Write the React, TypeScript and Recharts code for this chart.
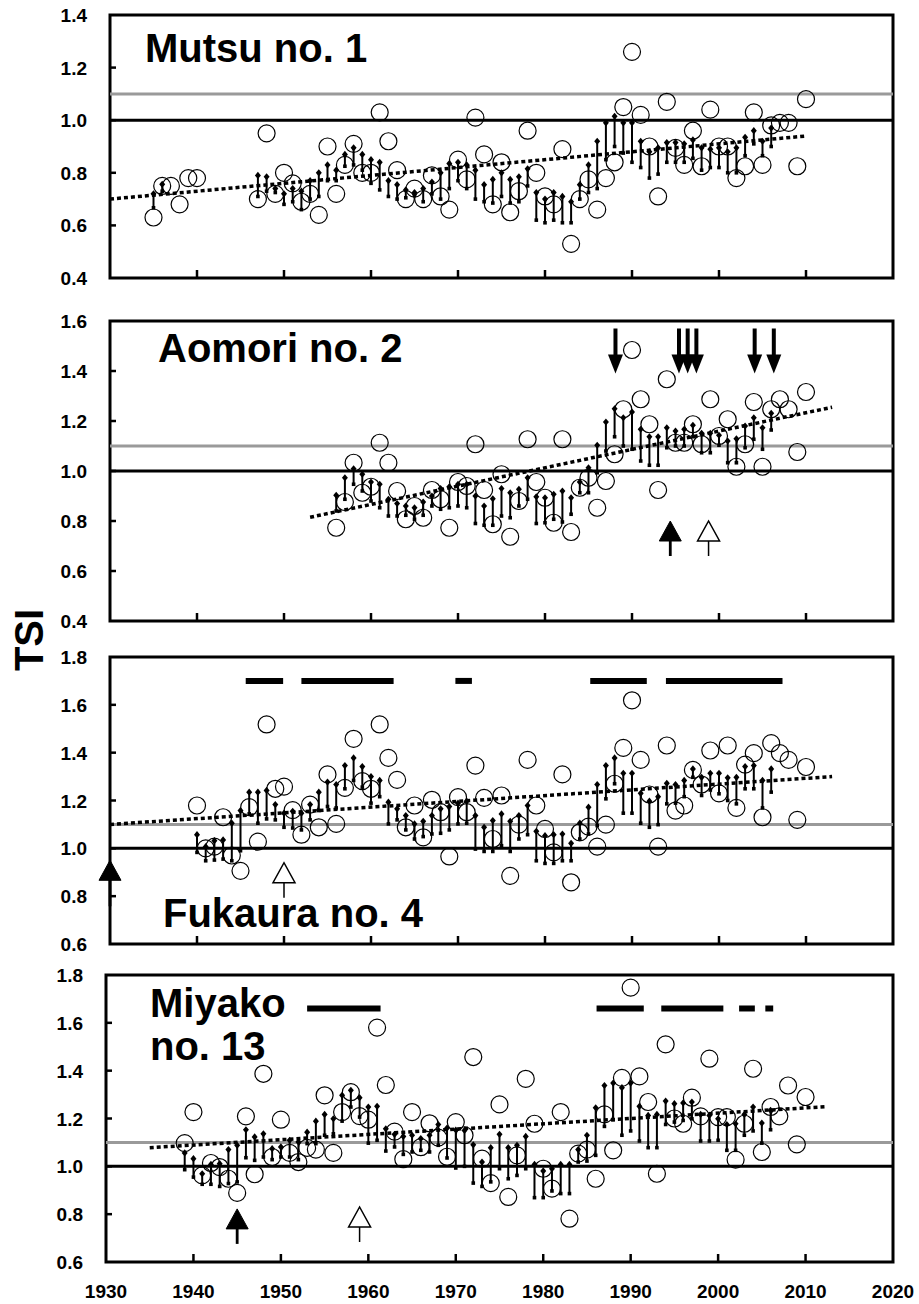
import React from 'react'
import { ScatterChart, Scatter, XAxis, YAxis, ReferenceLine, ReferenceArea, ErrorBar } from 'recharts'

type Pt = [number, number]
// year, diamond value, foot (square) value
type Stem = [number, number, number]

const xTicks = [1930, 1940, 1950, 1960, 1970, 1980, 1990, 2000, 2010, 2020]

// ---- Mutsu no. 1 ----
const mutsuObserved: Pt[] = [
  [1935, 0.63], [1936, 0.75], [1937, 0.75], [1938, 0.68], [1939, 0.78], [1940, 0.78],
  [1947, 0.7], [1948, 0.95], [1949, 0.72], [1950, 0.8], [1951, 0.76], [1952, 0.69],
  [1953, 0.72], [1954, 0.64], [1955, 0.9], [1956, 0.72], [1957, 0.83], [1958, 0.91],
  [1959, 0.8], [1960, 0.8], [1961, 1.03], [1962, 0.92], [1963, 0.81], [1964, 0.7],
  [1965, 0.74], [1966, 0.7], [1967, 0.79], [1968, 0.71], [1969, 0.66], [1970, 0.85],
  [1971, 0.775], [1972, 1.01], [1973, 0.87], [1974, 0.68], [1975, 0.84], [1976, 0.65],
  [1977, 0.73], [1978, 0.96], [1979, 0.8], [1980, 0.71], [1981, 0.68], [1982, 0.89],
  [1983, 0.53], [1984, 0.7], [1985, 0.775], [1986, 0.66], [1987, 0.78], [1988, 0.84],
  [1989, 1.05], [1990, 1.26], [1991, 1.02], [1992, 0.9], [1993, 0.71], [1994, 1.07],
  [1995, 0.895], [1996, 0.83], [1997, 0.96], [1998, 0.825], [1999, 1.04], [2000, 0.9],
  [2001, 0.9], [2002, 0.78], [2003, 0.825], [2004, 1.03], [2005, 0.83], [2006, 0.98],
  [2007, 0.99], [2008, 0.99], [2009, 0.825], [2010, 1.08],
]
const mutsuStems: Stem[] = [
  [1935, 0.72, 0.667], [1936, 0.756, 0.73],
  [1947, 0.79, 0.71], [1948, 0.785, 0.73], [1949, 0.74, 0.725], [1950, 0.72, 0.68],
  [1951, 0.74, 0.69], [1952, 0.73, 0.66], [1953, 0.77, 0.7], [1954, 0.8, 0.71],
  [1955, 0.83, 0.77], [1956, 0.81, 0.77], [1957, 0.87, 0.825], [1958, 0.895, 0.83],
  [1959, 0.87, 0.81], [1960, 0.85, 0.76], [1961, 0.84, 0.735], [1962, 0.77, 0.71],
  [1963, 0.755, 0.7], [1964, 0.735, 0.705], [1965, 0.725, 0.715], [1966, 0.74, 0.69],
  [1967, 0.765, 0.72], [1968, 0.8, 0.7], [1969, 0.835, 0.74], [1970, 0.84, 0.77],
  [1971, 0.83, 0.74], [1972, 0.81, 0.7], [1973, 0.755, 0.69], [1974, 0.775, 0.685],
  [1975, 0.8, 0.71], [1976, 0.775, 0.685], [1977, 0.785, 0.69], [1978, 0.815, 0.75],
  [1979, 0.725, 0.62], [1980, 0.7, 0.61], [1981, 0.725, 0.62], [1982, 0.71, 0.61],
  [1983, 0.69, 0.61], [1984, 0.755, 0.7], [1985, 0.83, 0.725], [1986, 0.92, 0.74],
  [1987, 0.99, 0.85], [1988, 1.015, 0.9], [1989, 0.99, 0.875], [1990, 0.99, 0.84],
  [1991, 0.92, 0.82], [1992, 0.88, 0.78], [1993, 0.895, 0.795], [1994, 0.915, 0.84],
  [1995, 0.915, 0.84], [1996, 0.91, 0.84], [1997, 0.925, 0.855], [1998, 0.895, 0.81],
  [1999, 0.89, 0.82], [2000, 0.895, 0.82], [2001, 0.88, 0.8], [2002, 0.895, 0.8],
  [2003, 0.935, 0.865], [2004, 0.96, 0.91], [2005, 0.92, 0.865], [2006, 0.97, 0.9],
]
const mutsuTrend: Pt[] = [[1930, 0.7], [2010, 0.94]]
const mutsuTicks = [0.4, 0.6, 0.8, 1.0, 1.2, 1.4]

// ---- Aomori no. 2 ----
const aomoriObserved: Pt[] = [
  [1956, 0.773], [1957, 0.876], [1958, 1.033], [1959, 0.913], [1960, 0.937], [1961, 1.113],
  [1962, 1.033], [1963, 0.92], [1964, 0.807], [1965, 0.86], [1966, 0.813], [1967, 0.924],
  [1968, 0.887], [1969, 0.773], [1970, 0.956], [1971, 0.94], [1972, 1.107], [1973, 0.924],
  [1974, 0.787], [1975, 0.987], [1976, 0.737], [1977, 0.88], [1978, 1.127], [1979, 0.956],
  [1980, 0.893], [1981, 0.793], [1982, 1.127], [1983, 0.756], [1984, 0.933], [1985, 0.973],
  [1986, 0.853], [1987, 0.96], [1988, 1.067], [1989, 1.247], [1990, 1.484], [1991, 1.287],
  [1992, 1.187], [1993, 0.924], [1994, 1.367], [1995, 1.113], [1996, 1.113], [1997, 1.187],
  [1998, 1.107], [1999, 1.287], [2000, 1.14], [2001, 1.207], [2002, 1.017], [2003, 1.107],
  [2004, 1.276], [2005, 1.017], [2006, 1.247], [2007, 1.287], [2008, 1.247], [2009, 1.076],
  [2010, 1.316],
]
const aomoriStems: Stem[] = [
  [1956, 0.903, 0.84], [1957, 0.973, 0.887], [1958, 1.009, 0.947], [1959, 0.987, 0.92],
  [1960, 0.956, 0.88], [1961, 0.947, 0.853], [1962, 0.887, 0.82], [1963, 0.87, 0.82],
  [1964, 0.86, 0.823], [1965, 0.853, 0.807], [1966, 0.876, 0.823], [1967, 0.9, 0.86],
  [1968, 0.93, 0.847], [1969, 0.937, 0.853], [1970, 0.947, 0.86], [1971, 0.947, 0.853],
  [1972, 0.9, 0.79], [1973, 0.86, 0.783], [1974, 0.889, 0.783], [1975, 0.93, 0.82],
  [1976, 0.913, 0.813], [1977, 0.927, 0.86], [1978, 0.973, 0.887], [1979, 0.897, 0.79],
  [1980, 0.893, 0.793], [1981, 0.907, 0.807], [1982, 0.92, 0.796], [1983, 0.893, 0.827],
  [1984, 0.956, 0.913], [1985, 1.013, 0.913], [1986, 1.103, 0.993], [1987, 1.196, 1.08],
  [1988, 1.249, 1.137], [1989, 1.213, 1.1], [1990, 1.236, 1.087], [1991, 1.167, 1.04],
  [1992, 1.137, 1.023], [1993, 1.137, 1.023], [1994, 1.173, 1.093], [1995, 1.16, 1.1],
  [1996, 1.167, 1.1], [1997, 1.183, 1.137], [1998, 1.151, 1.073], [1999, 1.151, 1.073],
  [2000, 1.143, 1.103], [2001, 1.12, 1.033], [2002, 1.129, 1.033], [2003, 1.18, 1.093],
  [2004, 1.213, 1.127], [2005, 1.173, 1.087], [2006, 1.231, 1.164],
]
const aomoriTrend: Pt[] = [[1953, 0.815], [2013, 1.255]]
const aomoriTicks = [0.4, 0.6, 0.8, 1.0, 1.2, 1.4, 1.6]
const aomoriDownArrows = [1988.1, 1995.4, 1996.4, 1997.4, 2004.1, 2006.3]
const aomoriUpArrows: [number, number, 'filled' | 'open'][] = [[1994.4, 0.8, 'filled'], [1998.8, 0.8, 'open']]

// ---- Fukaura no. 4 ----
const fukauraObserved: Pt[] = [
  [1940, 1.179], [1941, 1.0], [1942, 1.007], [1943, 1.13], [1944, 0.97], [1945, 0.906],
  [1946, 1.172], [1947, 1.028], [1948, 1.518], [1949, 1.249], [1950, 1.258], [1951, 1.16],
  [1952, 1.057], [1953, 1.183], [1954, 1.088], [1955, 1.309], [1956, 1.102], [1957, 1.253],
  [1958, 1.458], [1959, 1.281], [1960, 1.249], [1961, 1.518], [1962, 1.378], [1963, 1.286],
  [1964, 1.088], [1965, 1.179], [1966, 1.046], [1967, 1.203], [1968, 1.151], [1969, 0.966],
  [1970, 1.214], [1971, 1.151], [1972, 1.346], [1973, 1.211], [1974, 1.039], [1975, 1.221],
  [1976, 0.885], [1977, 1.099], [1978, 1.37], [1979, 1.179], [1980, 1.081], [1981, 0.983],
  [1982, 1.309], [1983, 0.858], [1984, 1.067], [1985, 1.091], [1986, 1.007], [1987, 1.099],
  [1988, 1.27], [1989, 1.42], [1990, 1.619], [1991, 1.37], [1992, 1.225], [1993, 1.007],
  [1994, 1.43], [1995, 1.158], [1996, 1.179], [1997, 1.328], [1998, 1.267], [1999, 1.409],
  [2000, 1.23], [2001, 1.43], [2002, 1.169], [2003, 1.35], [2004, 1.398], [2005, 1.13],
  [2006, 1.44], [2007, 1.398], [2008, 1.37], [2009, 1.119], [2010, 1.34],
]
const fukauraStems: Stem[] = [
  [1940, 1.057, 0.983], [1941, 1.007, 0.948], [1942, 1.032, 0.951], [1943, 1.035, 0.955],
  [1944, 1.105, 0.948], [1945, 1.158, 0.99], [1946, 1.235, 1.144], [1947, 1.235, 1.105],
  [1948, 1.242, 1.123], [1949, 1.183, 1.119], [1950, 1.147, 1.088], [1951, 1.155, 1.085],
  [1952, 1.147, 1.077], [1953, 1.183, 1.119], [1954, 1.235, 1.158], [1955, 1.277, 1.175],
  [1956, 1.267, 1.169], [1957, 1.346, 1.249], [1958, 1.378, 1.284], [1959, 1.342, 1.256],
  [1960, 1.3, 1.189], [1961, 1.284, 1.216], [1962, 1.193, 1.102], [1963, 1.165, 1.119],
  [1964, 1.137, 1.077], [1965, 1.102, 1.039], [1966, 1.113, 1.049], [1967, 1.137, 1.06],
  [1968, 1.165, 1.063], [1969, 1.175, 1.077], [1970, 1.189, 1.102], [1971, 1.197, 1.105],
  [1972, 1.137, 0.997], [1973, 1.088, 0.987], [1974, 1.116, 0.987], [1975, 1.144, 1.011],
  [1976, 1.113, 0.987], [1977, 1.137, 1.039], [1978, 1.179, 1.057], [1979, 1.071, 0.948],
  [1980, 1.053, 0.937], [1981, 1.057, 0.937], [1982, 1.06, 0.948], [1983, 1.021, 0.948],
  [1984, 1.105, 1.039], [1985, 1.172, 1.06], [1986, 1.267, 1.095], [1987, 1.346, 1.207],
  [1988, 1.378, 1.27], [1989, 1.314, 1.147], [1990, 1.314, 1.147], [1991, 1.23, 1.105],
  [1992, 1.197, 1.088], [1993, 1.216, 1.099], [1994, 1.272, 1.186], [1995, 1.267, 1.189],
  [1996, 1.284, 1.216], [1997, 1.332, 1.297], [1998, 1.297, 1.221], [1999, 1.314, 1.244],
  [2000, 1.314, 1.228], [2001, 1.295, 1.2], [2002, 1.297, 1.186], [2003, 1.342, 1.249],
  [2004, 1.346, 1.249], [2005, 1.284, 1.169], [2006, 1.332, 1.235],
]
const fukauraTrend: Pt[] = [[1930, 1.1], [2013, 1.3]]
const fukauraTicks = [0.6, 0.8, 1.0, 1.2, 1.4, 1.6, 1.8]
const fukauraPeriods: Pt[] = [[1945.6, 1949.9], [1952, 1962.6], [1969.7, 1971.6], [1985.2, 1991.7], [1993.9, 2007.3]]
const fukauraUpArrows: [number, number, 'filled' | 'open'][] = [[1930, 0.95, 'filled'], [1950, 0.94, 'open']]

// ---- Miyako no. 13 ----
const miyakoObserved: Pt[] = [
  [1939, 1.097], [1940, 1.227], [1941, 0.962], [1942, 1.014], [1943, 0.997], [1944, 0.948],
  [1945, 0.889], [1946, 1.209], [1947, 0.967], [1948, 1.387], [1949, 1.039], [1950, 1.195],
  [1951, 1.056], [1952, 1.018], [1953, 1.077], [1954, 1.07], [1955, 1.297], [1956, 1.056],
  [1957, 1.227], [1958, 1.31], [1959, 1.21], [1960, 1.195], [1961, 1.58], [1962, 1.34],
  [1963, 1.145], [1964, 1.03], [1965, 1.227], [1966, 1.08], [1967, 1.18], [1968, 1.12],
  [1969, 1.04], [1970, 1.185], [1971, 1.13], [1972, 1.457], [1973, 1.032], [1974, 0.93],
  [1975, 1.259], [1976, 0.872], [1977, 1.046], [1978, 1.366], [1979, 1.178], [1980, 0.99],
  [1981, 0.907], [1982, 1.227], [1983, 0.781], [1984, 1.053], [1985, 1.07], [1986, 0.948],
  [1987, 1.217], [1988, 1.067], [1989, 1.37], [1990, 1.747], [1991, 1.376], [1992, 1.269],
  [1993, 0.969], [1994, 1.51], [1995, 1.2], [1996, 1.178], [1997, 1.287], [1998, 1.209],
  [1999, 1.45], [2000, 1.206], [2001, 1.206], [2002, 1.028], [2003, 1.178], [2004, 1.408],
  [2005, 1.06], [2006, 1.248], [2007, 1.209], [2008, 1.338], [2009, 1.092], [2010, 1.29],
]
const miyakoStems: Stem[] = [
  [1939, 1.056, 0.986], [1940, 1.032, 0.955], [1941, 0.969, 0.925], [1942, 1.008, 0.925],
  [1943, 1.011, 0.916], [1944, 1.07, 0.928], [1945, 1.088, 0.935], [1946, 1.153, 1.036],
  [1947, 1.123, 1.025], [1948, 1.136, 1.039], [1949, 1.074, 1.028], [1950, 1.081, 1.039],
  [1951, 1.109, 1.039], [1952, 1.102, 1.028], [1953, 1.143, 1.095], [1954, 1.189, 1.095],
  [1955, 1.217, 1.13], [1956, 1.199, 1.136], [1957, 1.297, 1.189], [1958, 1.318, 1.248],
  [1959, 1.287, 1.206], [1960, 1.248, 1.097], [1961, 1.251, 1.109], [1962, 1.157, 1.064],
  [1963, 1.134, 1.081], [1964, 1.125, 1.05], [1965, 1.13, 1.06], [1966, 1.116, 1.067],
  [1967, 1.13, 1.06], [1968, 1.175, 1.088], [1969, 1.16, 1.035], [1970, 1.152, 0.993],
  [1971, 1.15, 1.0], [1972, 1.09, 0.93], [1973, 1.018, 0.916], [1974, 1.078, 0.935],
  [1975, 1.134, 0.99], [1976, 1.078, 0.948], [1977, 1.088, 0.962], [1978, 1.125, 0.99],
  [1979, 1.008, 0.869], [1980, 0.981, 0.869], [1981, 0.99, 0.897], [1982, 1.008, 0.886],
  [1983, 1.008, 0.886], [1984, 1.07, 1.018], [1985, 1.13, 1.022], [1986, 1.245, 1.046],
  [1987, 1.338, 1.167], [1988, 1.348, 1.195], [1989, 1.329, 1.13], [1990, 1.348, 1.148],
  [1991, 1.251, 1.106], [1992, 1.213, 1.078], [1993, 1.217, 1.078], [1994, 1.273, 1.175],
  [1995, 1.262, 1.185], [1996, 1.265, 1.192], [1997, 1.269, 1.199], [1998, 1.217, 1.106],
  [1999, 1.213, 1.106], [2000, 1.199, 1.109], [2001, 1.175, 1.067], [2002, 1.178, 1.067],
  [2003, 1.217, 1.13], [2004, 1.248, 1.148], [2005, 1.181, 1.097], [2006, 1.234, 1.153],
]
const miyakoTrend: Pt[] = [[1935, 1.078], [2012.5, 1.25]]
const miyakoTicks = [0.6, 0.8, 1.0, 1.2, 1.4, 1.6, 1.8]
const miyakoPeriods: Pt[] = [[1953, 1961.4], [1986.1, 1991.5], [1993.5, 2000.6], [2002.4, 2004.2], [2005.4, 2006.3]]
const miyakoUpArrows: [number, number, 'filled' | 'open'][] = [[1945, 0.822, 'filled'], [1959, 0.83, 'open']]

const FONT = '"Liberation Sans", Arial, Helvetica, sans-serif'

function XTick(props: any) {
  const { x, y, payload, showLabel } = props
  const v = payload.value
  const inner = v > 1930 && v < 2020
  return (
    <g>
      {inner && <line x1={x} x2={x} y1={y} y2={y - 8} stroke="#000" strokeWidth={2.5} />}
      {showLabel && (
        <text x={x} y={y + 36} textAnchor="middle" fontFamily={FONT} fontWeight="bold" fontSize={19} fill="#000">
          {v}
        </text>
      )}
    </g>
  )
}

function YTick(props: any) {
  const { x, y, payload, min, max } = props
  const v = payload.value
  const inner = v > min + 1e-6 && v < max - 1e-6
  return (
    <g>
      {inner && <line x1={x} x2={x + 6} y1={y} y2={y} stroke="#000" strokeWidth={2.5} />}
      <text x={x - 23} y={y + 7} textAnchor="end" fontFamily={FONT} fontWeight="bold" fontSize={19} fill="#000">
        {v.toFixed(1)}
      </text>
    </g>
  )
}

const circleShape = (p: any) => <circle cx={p.cx} cy={p.cy} r={8.5} fill="none" stroke="#000" strokeWidth={1.2} />
const diamondShape = (p: any) => (
  <polygon points={`${p.cx},${p.cy - 3.6} ${p.cx + 3},${p.cy} ${p.cx},${p.cy + 3.6} ${p.cx - 3},${p.cy}`} fill="#000" />
)
const footShape = (p: any) => <rect x={p.cx - 1.8} y={p.cy - 1.8} width={3.6} height={3.6} fill="#000" />
const downArrowShape = (p: any) => (
  <g>
    <line x1={p.cx} x2={p.cx} y1={p.cy - 45} y2={p.cy - 16} stroke="#000" strokeWidth={4} />
    <polygon points={`${p.cx - 7.5},${p.cy - 19} ${p.cx + 7.5},${p.cy - 19} ${p.cx},${p.cy}`} fill="#000" />
  </g>
)
const upArrowShape = (p: any) => {
  const filled = p.payload.kind === 'filled'
  const shaft = p.payload.long ? 46 : 35
  return (
    <g>
      <line x1={p.cx} x2={p.cx} y1={p.cy + 19} y2={p.cy + shaft} stroke="#000" strokeWidth={filled ? 2.8 : 1.5} />
      <polygon
        points={`${p.cx - 11},${p.cy + 20} ${p.cx + 11},${p.cy + 20} ${p.cx},${p.cy}`}
        fill={filled ? '#000' : '#fff'}
        stroke="#000"
        strokeWidth={filled ? 1 : 1.5}
      />
    </g>
  )
}

type PanelProps = {
  top: number
  bottom: number
  left: number
  right: number
  domain: [number, number]
  ticks: number[]
  observed: Pt[]
  stems: Stem[]
  trend: Pt[]
  periods?: Pt[]
  periodLevel?: number
  downArrows?: number[]
  downLevel?: number
  upArrows?: [number, number, 'filled' | 'open'][]
  showYears?: boolean
}

function Panel(props: PanelProps) {
  const { top, bottom, left, right, domain, ticks, observed, stems, trend } = props
  const marginTop = 12
  const xAxisH = props.showYears ? 44 : 16
  const width = 919
  const height = marginTop + (bottom - top) + xAxisH

  const obsData = observed.map(([x, y]) => ({ x, y }))
  const stemData = stems.map(([x, d, s]) => ({ x, y: d, err: d >= s ? [d - s, 0] : [0, s - d] }))
  const footData = stems.map(([x, , s]) => ({ x, y: s }))
  const downData = (props.downArrows || []).map((x) => ({ x, y: props.downLevel }))
  const upData = (props.upArrows || []).map(([x, y, kind]) => ({ x, y, kind, long: x === 1930 }))

  return (
    <div style={{ position: 'absolute', left: 0, top: top - marginTop }}>
      <ScatterChart width={width} height={height} margin={{ top: marginTop, right: width - right, bottom: 0, left: 0 }} style={{ overflow: 'visible' }}>
        <XAxis
          type="number"
          dataKey="x"
          domain={[1930, 2020]}
          ticks={xTicks}
          interval={0}
          height={xAxisH}
          axisLine={false}
          tickLine={false}
          tickSize={0}
          tickMargin={0}
          tick={<XTick showLabel={!!props.showYears} />}
        />
        <YAxis
          type="number"
          dataKey="y"
          domain={domain}
          ticks={ticks}
          interval={0}
          width={left}
          axisLine={false}
          tickLine={false}
          tickSize={0}
          tickMargin={0}
          tick={<YTick min={domain[0]} max={domain[1]} />}
        />
        <ReferenceLine y={1.1} stroke="#9a9a9a" strokeWidth={3} />
        <ReferenceLine y={1.0} stroke="#000" strokeWidth={3} />
        <ReferenceLine segment={[{ x: trend[0][0], y: trend[0][1] }, { x: trend[1][0], y: trend[1][1] }]} stroke="#000" strokeWidth={3.5} strokeDasharray="4 3" />
        {(props.periods || []).map(([a, b], i) => (
          <ReferenceLine key={i} segment={[{ x: a, y: props.periodLevel }, { x: b, y: props.periodLevel }]} stroke="#000" strokeWidth={6} />
        ))}
        <Scatter data={stemData} shape={diamondShape} isAnimationActive={false}>
          <ErrorBar dataKey="err" direction="y" width={0} stroke="#000" strokeWidth={2} />
        </Scatter>
        <Scatter data={footData} shape={footShape} isAnimationActive={false} />
        <Scatter data={obsData} shape={circleShape} isAnimationActive={false} />
        {downData.length > 0 && <Scatter data={downData} shape={downArrowShape} isAnimationActive={false} />}
        {upData.length > 0 && <Scatter data={upData} shape={upArrowShape} isAnimationActive={false} />}
        <ReferenceArea x1={1930} x2={2020} y1={domain[0]} y2={domain[1]} fill="none" fillOpacity={0} stroke="#000" strokeWidth={3} ifOverflow="visible" />
      </ScatterChart>
    </div>
  )
}

export default function App() {
  return (
    <div style={{ position: 'absolute', left: 0, top: 0, width: 919, height: 1304, background: '#fff', overflow: 'hidden' }}>
      <Panel top={15} bottom={278} left={110} right={893} domain={[0.4, 1.4]} ticks={mutsuTicks}
        observed={mutsuObserved} stems={mutsuStems} trend={mutsuTrend} />
      <Panel top={321} bottom={621} left={110} right={893} domain={[0.4, 1.6]} ticks={aomoriTicks}
        observed={aomoriObserved} stems={aomoriStems} trend={aomoriTrend}
        downArrows={aomoriDownArrows} downLevel={1.39} upArrows={aomoriUpArrows} />
      <Panel top={657} bottom={944} left={110} right={893} domain={[0.6, 1.8]} ticks={fukauraTicks}
        observed={fukauraObserved} stems={fukauraStems} trend={fukauraTrend}
        periods={fukauraPeriods} periodLevel={1.7} upArrows={fukauraUpArrows} />
      <Panel top={975} bottom={1262} left={106} right={893} domain={[0.6, 1.8]} ticks={miyakoTicks}
        observed={miyakoObserved} stems={miyakoStems} trend={miyakoTrend}
        periods={miyakoPeriods} periodLevel={1.66} upArrows={miyakoUpArrows} showYears />
      <svg width={919} height={1304} style={{ position: 'absolute', left: 0, top: 0, pointerEvents: 'none' }}>
        <g fontFamily={FONT} fontWeight="bold" fontSize={40} fill="#000">
          <text x={145} y={62}>Mutsu no. 1</text>
          <text x={158} y={362}>Aomori no. 2</text>
          <text x={163} y={927}>Fukaura no. 4</text>
          <text x={150} y={1017}>Miyako</text>
          <text x={150} y={1060}>no. 13</text>
          <text transform="translate(43,640) rotate(-90)" textAnchor="middle">TSI</text>
        </g>
      </svg>
    </div>
  )
}
